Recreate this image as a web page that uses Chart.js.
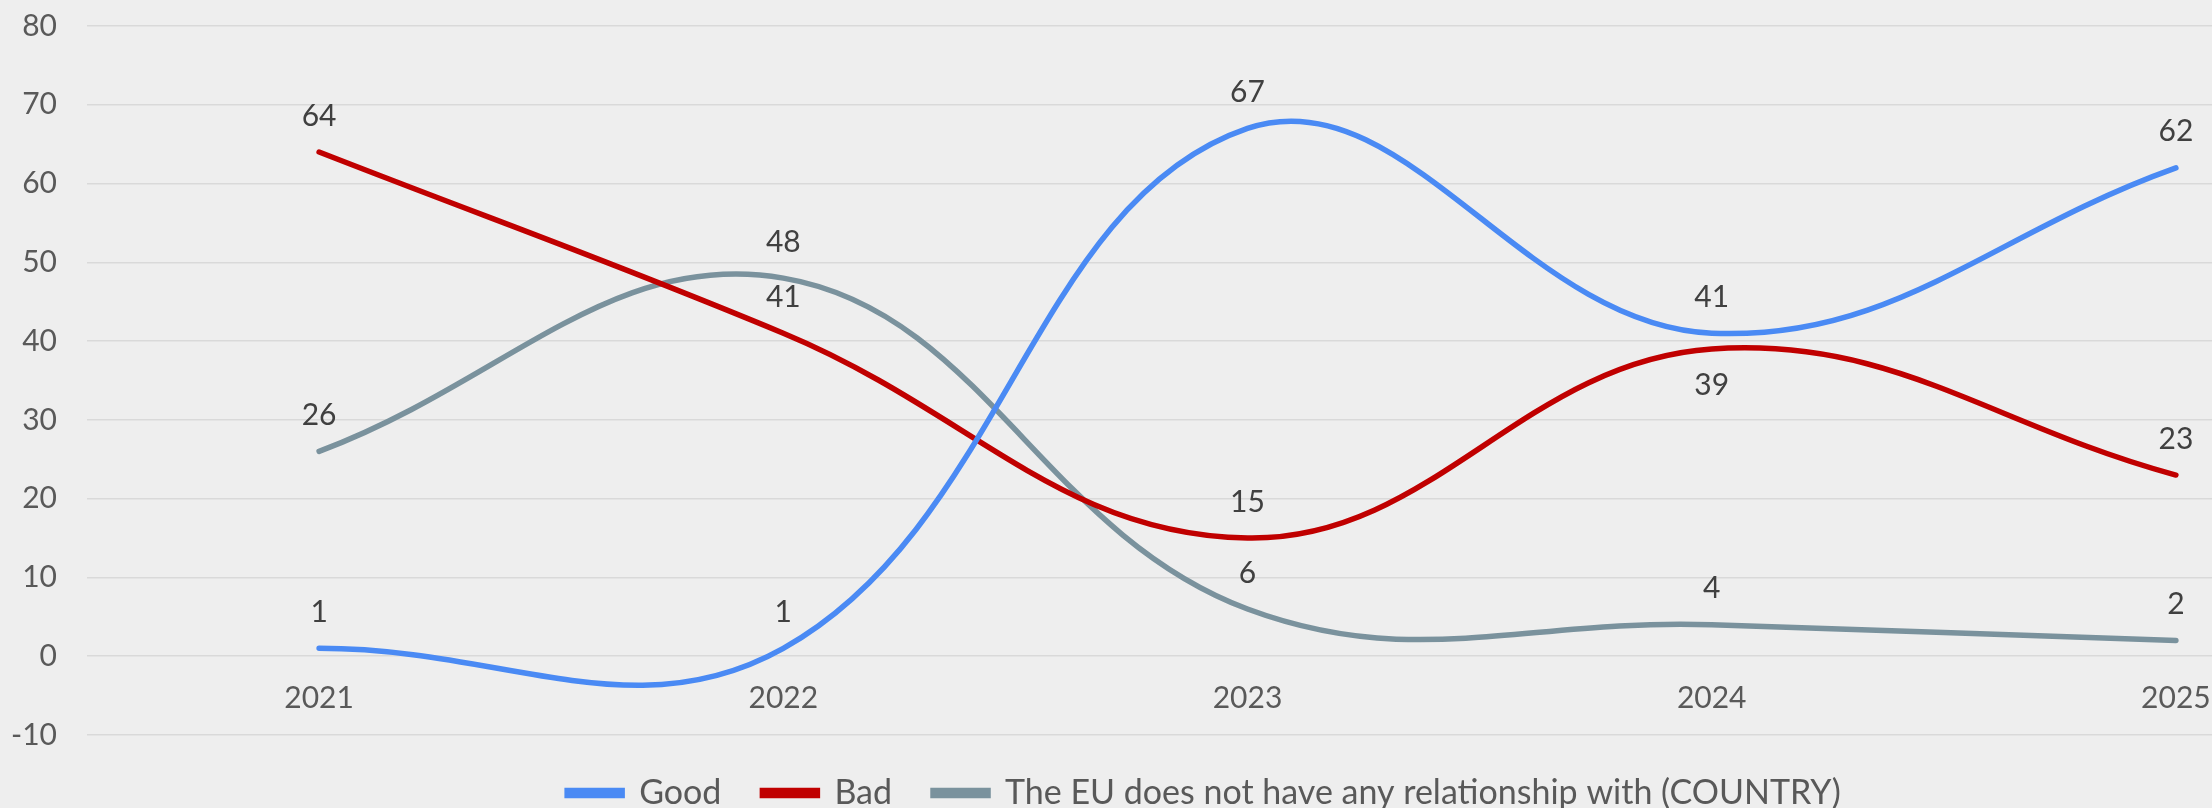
<!DOCTYPE html>
<html>
<head>
<meta charset="utf-8">
<script src="https://cdn.jsdelivr.net/npm/chart.js@4"></script>
<style>
    html, body { margin: 0; padding: 0; background: #eeeeee; overflow: hidden; }
    /* the source chart was wider than the picture and got cut at the right */
    .chart-wrap { width: 2436px; height: 808px; position: relative; }
</style>
</head>
<body>
<div class="chart-wrap"><canvas id="relChart"></canvas></div>
<script>
// Chart data
const years = ['2021', '2022', '2023', '2024', '2025'];
const goodValues = [1, 1, 67, 41, 62];
const badValues = [64, 41, 15, 39, 23];
const noRelationValues = [26, 48, 6, 4, 2];
const seriesNames = ['Good', 'Bad', 'The EU does not have any relationship with (COUNTRY)'];
const yTicks = { min: -10, max: 80, step: 10 };

Chart.defaults.font.family = 'Lato, "Open Sans", sans-serif';
Chart.defaults.font.size = 30;
Chart.defaults.color = '#595959';

const colors = {
    good: '#4a8af4',
    bad: '#c00000',
    noRelation: '#7a929d',
    grid: '#d9d9d9',
    label: '#404040'
};

// Simple value labels above (or below) each point
const pointLabels = {
    id: 'pointLabels',
    afterDatasetsDraw(chart) {
        const ctx = chart.ctx;
        ctx.save();
        ctx.font = '30px ' + Chart.defaults.font.family;
        ctx.fillStyle = colors.label;
        ctx.textAlign = 'center';
        ctx.textBaseline = 'middle';
        chart.data.datasets.forEach((ds, di) => {
            const meta = chart.getDatasetMeta(di);
            meta.data.forEach((pt, i) => {
                const below = (ds.labelsBelow || []).includes(i);
                ctx.fillText(String(ds.data[i]), pt.x, pt.y + (below ? 36 : -36));
            });
        });
        ctx.restore();
    }
};

function lineDataset(label, data, color, extra) {
    return Object.assign({
        label: label,
        data: data,
        borderColor: color,
        backgroundColor: color,
        borderWidth: 5.5,
        borderCapStyle: 'round',
        tension: 0.4,
        pointRadius: 0,
        pointHoverRadius: 0
    }, extra || {});
}

// keep the axes from pushing the plot area around
function noAxisPadding(scale) {
    scale.paddingTop = 0;
    scale.paddingBottom = 0;
}

new Chart(document.getElementById('relChart'), {
    type: 'line',
    data: {
        labels: years,
        datasets: [
            lineDataset(seriesNames[0], goodValues, colors.good),
            lineDataset(seriesNames[1], badValues, colors.bad, { labelsBelow: [3] }),
            lineDataset(seriesNames[2], noRelationValues, colors.noRelation)
        ]
    },
    options: {
        responsive: true,
        maintainAspectRatio: false,
        animation: false,
        layout: { autoPadding: false, padding: { top: 26, right: 28, left: 0, bottom: -12 } },
        plugins: {
            legend: {
                position: 'bottom',
                labels: {
                    boxWidth: 55,
                    boxHeight: 5,
                    padding: 41,
                    color: '#595959',
                    font: { size: 34 }
                }
            },
            tooltip: { enabled: false }
        },
        scales: {
            x: {
                offset: true,
                position: { y: 0 },
                grid: { display: false, drawTicks: false },
                border: { display: false },
                ticks: { padding: 24, color: '#595959' },
                afterFit: noAxisPadding
            },
            y: {
                min: yTicks.min,
                max: yTicks.max,
                ticks: { stepSize: yTicks.step, padding: 30, color: '#595959' },
                grid: { color: colors.grid, lineWidth: 1.5, drawTicks: false },
                border: { display: false },
                afterFit(scale) {
                    scale.width = 87;
                    noAxisPadding(scale);
                }
            }
        }
    },
    plugins: [pointLabels]
});
</script>
</body>
</html>
